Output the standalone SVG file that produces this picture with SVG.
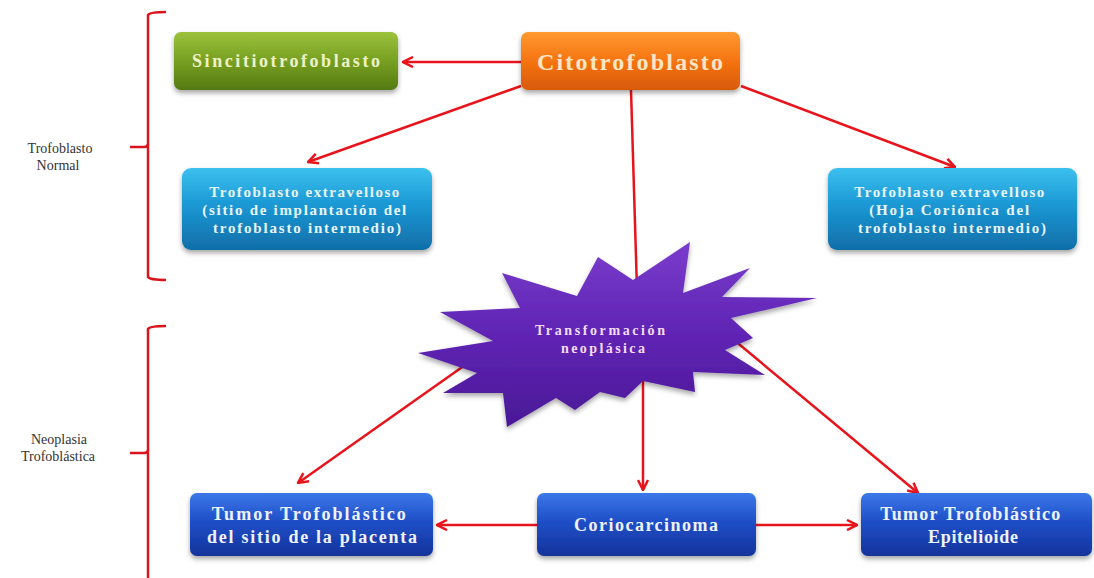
<svg xmlns="http://www.w3.org/2000/svg" width="1094" height="578" viewBox="0 0 1094 578">
<defs>
<linearGradient id="gGreen" x1="0" y1="0" x2="0" y2="1"><stop offset="0" stop-color="#9cc23c"/><stop offset="0.5" stop-color="#77a022"/><stop offset="1" stop-color="#557a12"/></linearGradient>
<linearGradient id="gOrange" x1="0" y1="0" x2="0" y2="1"><stop offset="0" stop-color="#ff9a30"/><stop offset="0.5" stop-color="#f57412"/><stop offset="1" stop-color="#d85a06"/></linearGradient>
<linearGradient id="gCyan" x1="0" y1="0" x2="0" y2="1"><stop offset="0" stop-color="#3cc0ee"/><stop offset="0.45" stop-color="#1b98d4"/><stop offset="1" stop-color="#106ea8"/></linearGradient>
<linearGradient id="gBlue" x1="0" y1="0" x2="0" y2="1"><stop offset="0" stop-color="#3c78e8"/><stop offset="0.45" stop-color="#1f4fc8"/><stop offset="1" stop-color="#13339a"/></linearGradient>
<linearGradient id="gPurple" x1="0" y1="0" x2="0" y2="1"><stop offset="0" stop-color="#7a3ccc"/><stop offset="0.5" stop-color="#5f24b4"/><stop offset="1" stop-color="#4a1896"/></linearGradient>
<filter id="shadow" x="-10%" y="-10%" width="120%" height="140%"><feDropShadow dx="0" dy="3" stdDeviation="2.5" flood-color="#000" flood-opacity="0.35"/></filter>
<marker id="arrow" viewBox="0 0 12 12" refX="11" refY="6" markerWidth="12" markerHeight="12" markerUnits="userSpaceOnUse" orient="auto">
<path d="M1,1 L11,6 L1,11" fill="none" stroke="#e8141c" stroke-width="2.5" stroke-linejoin="miter"/>
</marker>
</defs>
<style>
.box{filter:url(#shadow);}
.t{font-family:"Liberation Serif","Times New Roman",serif;font-weight:bold;text-anchor:middle;}
.lbl{font-family:"Liberation Serif","Times New Roman",serif;font-size:14px;fill:#333;text-anchor:middle;}
.conn{stroke:#e8141c;stroke-width:2.5;fill:none;}
.br{stroke:#d8141c;stroke-width:2.5;fill:none;}
</style>
<rect width="1094" height="578" fill="#fff"/>

<g id="brackets">
<path class="br" d="M166,12 Q150,12 148,15 L148,277 Q150,280 166,280"/>
<path class="br" d="M130,147 L144,147 Q148,147 148,144"/>
<path class="br" d="M166,326 Q150,326 148,329 L148,578"/>
<path class="br" d="M130,453 L144,453 Q148,453 148,450"/>
</g>
<g id="label-normal">
<text class="lbl" x="60" y="153">Trofoblasto</text>
<text class="lbl" x="58" y="170">Normal</text>
</g>
<g id="label-neoplasia">
<text class="lbl" x="59" y="444">Neoplasia</text>
<text class="lbl" x="58" y="461">Trofoblástica</text>
</g>

<g id="connectors">
<line class="conn" x1="521" y1="62" x2="403" y2="62" marker-end="url(#arrow)"/>
<line class="conn" x1="521" y1="86" x2="308" y2="162" marker-end="url(#arrow)"/>
<line class="conn" x1="741" y1="86" x2="955" y2="167" marker-end="url(#arrow)"/>
<line class="conn" x1="631" y1="90" x2="637" y2="290"/>
<line class="conn" x1="475" y1="358" x2="298" y2="483" marker-end="url(#arrow)"/>
<line class="conn" x1="643" y1="370" x2="643" y2="490" marker-end="url(#arrow)"/>
<line class="conn" x1="728" y1="335" x2="918" y2="493" marker-end="url(#arrow)"/>
<line class="conn" x1="537" y1="525" x2="437" y2="525" marker-end="url(#arrow)"/>
<line class="conn" x1="756" y1="525" x2="857" y2="525" marker-end="url(#arrow)"/>
</g>

<g id="sincitiotrofoblasto">
<rect class="box" x="174" y="32" width="224" height="58" rx="7" fill="url(#gGreen)"/>
<text class="t" x="286" y="67" font-size="18" fill="#eef2c8" textLength="188" lengthAdjust="spacing">Sincitiotrofoblasto</text>
</g>
<g id="citotrofoblasto">
<rect class="box" x="521" y="32" width="219" height="58" rx="7" fill="url(#gOrange)"/>
<text class="t" x="630" y="70" font-size="24" fill="#fde6c4" textLength="186" lengthAdjust="spacing">Citotrofoblasto</text>
</g>
<g id="extravelloso-implantacion">
<rect class="box" x="182" y="168" width="250" height="82" rx="9" fill="url(#gCyan)"/>
<text class="t" font-size="15" fill="#e8f6fc">
<tspan x="307" y="197" textLength="190" lengthAdjust="spacing">Trofoblasto extravelloso</tspan>
<tspan x="307" y="215" textLength="204" lengthAdjust="spacing">(sitio de implantación  del</tspan>
<tspan x="307" y="233" textLength="188" lengthAdjust="spacing">trofoblasto intermedio)</tspan>
</text>
</g>
<g id="extravelloso-corionica">
<rect class="box" x="828" y="168" width="249" height="82" rx="9" fill="url(#gCyan)"/>
<text class="t" font-size="15" fill="#e8f6fc">
<tspan x="952" y="197" textLength="190" lengthAdjust="spacing">Trofoblasto extravelloso</tspan>
<tspan x="952" y="215" textLength="160" lengthAdjust="spacing">(Hoja Coriónica del</tspan>
<tspan x="952" y="233" textLength="188" lengthAdjust="spacing">trofoblasto intermedio)</tspan>
</text>
</g>
<g id="transformacion">
<polygon class="box" fill="url(#gPurple)" points="418,353 493,341 440,312 520,308 502,273 577,296 598,257 633,280 690,242 683,293 750,268 722,297 817,298 731,318 753,338 725,350 765,375 693,372 695,392 643,381 625,398 600,392 575,410 556,398 507,427 503,393 443,393 477,373"/>
<text class="t" font-size="14" fill="#f4dcf4">
<tspan x="603" y="335" textLength="130" lengthAdjust="spacing">Transformación</tspan>
<tspan x="603" y="353" textLength="84" lengthAdjust="spacing">neoplásica</tspan>
</text>
</g>
<g id="tumor-placenta">
<rect class="box" x="190" y="493" width="243" height="63" rx="7" fill="url(#gBlue)"/>
<text class="t" font-size="18" fill="#eef2fc">
<tspan x="312" y="520" textLength="194" lengthAdjust="spacing">Tumor Trofoblástico</tspan>
<tspan x="312" y="543" textLength="210" lengthAdjust="spacing">del sitio de la placenta</tspan>
</text>
</g>
<g id="coriocarcinoma">
<rect class="box" x="537" y="493" width="219" height="63" rx="7" fill="url(#gBlue)"/>
<text class="t" x="646" y="531" font-size="18" fill="#eef2fc" textLength="144" lengthAdjust="spacing">Coriocarcinoma</text>
</g>
<g id="tumor-epitelioide">
<rect class="box" x="861" y="493" width="231" height="63" rx="7" fill="url(#gBlue)"/>
<text class="t" font-size="18" fill="#eef2fc">
<tspan x="973" y="520" textLength="180" lengthAdjust="spacing">Tumor Trofoblástico</tspan>
<tspan x="973" y="543" textLength="90" lengthAdjust="spacing">Epitelioide</tspan>
</text>
</g>
</svg>
